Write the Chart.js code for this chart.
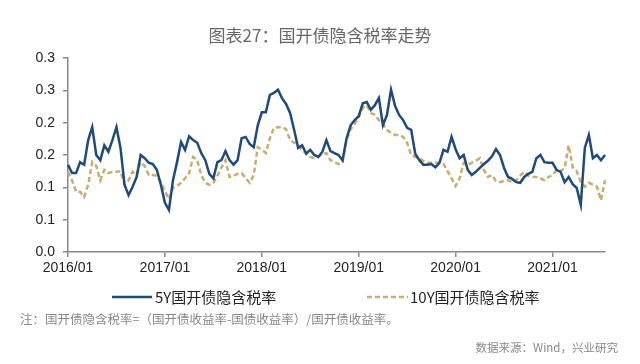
<!DOCTYPE html>
<html>
<head>
<meta charset="utf-8">
<script src="https://cdn.jsdelivr.net/npm/chart.js@4.4.1/dist/chart.umd.min.js"></script>
<style>
  body { margin: 0; background: #fff; font-family: "Noto Sans CJK SC", sans-serif; }
  #wrap { position: relative; width: 640px; height: 364px; }
  #chart { position: absolute; left: 0; top: 0; }
  .txt { position: absolute; white-space: nowrap; }
  #title { left: 0; width: 640px; top: 22px; text-align: center; font-size: 17px; color: #666; }
  .leg { top: 286px; font-size: 15px; color: #222; }
  .legline { position: absolute; top: 295px; }
  #note { left: 20px; top: 309px; font-size: 12.5px; color: #888; }
  #src { right: 22px; top: 339px; font-size: 11.5px; color: #888; }
</style>
</head>
<body>
<div id="wrap">
  <canvas id="chart" width="640" height="364"></canvas>
  <div class="txt" id="title">图表27：国开债隐含税率走势</div>
  <svg class="legline" style="left:112px" width="40" height="4"><line x1="0" y1="2" x2="40" y2="2" stroke="#1F4A7A" stroke-width="2.5"/></svg>
  <div class="txt leg" style="left:155px">5Y国开债隐含税率</div>
  <svg class="legline" style="left:367px" width="41" height="4"><line x1="0" y1="2" x2="41" y2="2" stroke="#C9AC73" stroke-width="2.5" stroke-dasharray="5,3"/></svg>
  <div class="txt leg" style="left:410px">10Y国开债隐含税率</div>
  <div class="txt" id="note">注：国开债隐含税率=（国开债收益率-国债收益率）/国开债收益率。</div>
  <div class="txt" id="src">数据来源：Wind，兴业研究</div>
</div>
<script>
// half-month steps starting 2016/01
const startYear = 2016;
const xTickLabels = ['2016/01', '2017/01', '2018/01', '2019/01', '2020/01', '2021/01'];
const yTickLabels = ['0.0', '0.1', '0.1', '0.2', '0.2', '0.3', '0.3'];

const rate5Y = [
  0.135, 0.122, 0.122, 0.139, 0.135, 0.173, 0.193, 0.150, 0.142, 0.165,
  0.155, 0.173, 0.193, 0.161, 0.104, 0.088, 0.101, 0.116, 0.150, 0.145,
  0.138, 0.136, 0.127, 0.104, 0.076, 0.065, 0.111, 0.139, 0.170, 0.158,
  0.179, 0.173, 0.169, 0.153, 0.142, 0.121, 0.114, 0.139, 0.142, 0.156,
  0.142, 0.135, 0.142, 0.176, 0.178, 0.167, 0.162, 0.196, 0.216, 0.216,
  0.243, 0.246, 0.251, 0.238, 0.229, 0.215, 0.189, 0.161, 0.165, 0.152,
  0.158, 0.150, 0.147, 0.155, 0.173, 0.156, 0.153, 0.150, 0.142, 0.176,
  0.196, 0.204, 0.210, 0.230, 0.232, 0.220, 0.227, 0.238, 0.196, 0.212,
  0.251, 0.226, 0.212, 0.204, 0.192, 0.189, 0.152, 0.142, 0.135, 0.135,
  0.136, 0.131, 0.138, 0.158, 0.155, 0.178, 0.159, 0.145, 0.150, 0.127,
  0.119, 0.124, 0.130, 0.136, 0.141, 0.148, 0.159, 0.150, 0.130, 0.116,
  0.113, 0.108, 0.107, 0.116, 0.121, 0.124, 0.145, 0.150, 0.139, 0.138,
  0.138, 0.127, 0.124, 0.108, 0.116, 0.105, 0.099, 0.073, 0.161, 0.181,
  0.145, 0.150, 0.142, 0.150
];

const rate10Y = [
  0.124, 0.111, 0.093, 0.093, 0.085, 0.104, 0.139, 0.133, 0.111, 0.127,
  0.122, 0.124, 0.124, 0.125, 0.104, 0.111, 0.124, 0.119, 0.139, 0.133,
  0.119, 0.119, 0.118, 0.108, 0.094, 0.082, 0.099, 0.102, 0.107, 0.114,
  0.122, 0.147, 0.142, 0.119, 0.107, 0.104, 0.107, 0.118, 0.131, 0.142,
  0.116, 0.118, 0.121, 0.122, 0.114, 0.107, 0.119, 0.162, 0.158, 0.153,
  0.176, 0.192, 0.193, 0.193, 0.190, 0.173, 0.169, 0.164, 0.158, 0.152,
  0.147, 0.145, 0.147, 0.152, 0.153, 0.142, 0.139, 0.136, 0.139, 0.173,
  0.190, 0.198, 0.209, 0.223, 0.227, 0.215, 0.212, 0.204, 0.198, 0.189,
  0.184, 0.181, 0.181, 0.178, 0.169, 0.150, 0.147, 0.145, 0.141, 0.138,
  0.138, 0.138, 0.138, 0.136, 0.125, 0.114, 0.102, 0.114, 0.138, 0.135,
  0.138, 0.141, 0.145, 0.127, 0.116, 0.119, 0.110, 0.108, 0.110, 0.111,
  0.108, 0.111, 0.118, 0.124, 0.118, 0.116, 0.116, 0.114, 0.111, 0.116,
  0.119, 0.127, 0.125, 0.130, 0.165, 0.131, 0.125, 0.108, 0.101, 0.107,
  0.104, 0.101, 0.080, 0.111
];

// category labels, one per half month
const labels = rate5Y.map((_, i) => {
  const m = Math.floor(i / 2);
  const y = startYear + Math.floor(m / 12);
  const mm = String(m % 12 + 1).padStart(2, '0');
  return i % 2 === 0 ? y + '/' + mm : y + '/' + mm + '-15';
});

const axisColor = '#8a8a8a';
const tickFont = { family: 'Liberation Sans, Arial, sans-serif', size: 14 };

new Chart(
  document.getElementById('chart'),
  {
    type: 'line',
    data: {
      labels: labels,
      datasets: [{
        label: '5Y国开债隐含税率',
        data: rate5Y,
        borderColor: '#1F4A7A',
        borderWidth: 2.5,
        pointRadius: 0,
        tension: 0,
        fill: false
      },
      {
        label: '10Y国开债隐含税率',
        data: rate10Y,
        borderColor: '#C9AC73',
        borderWidth: 2.5,
        borderDash: [5, 3],
        pointRadius: 0,
        tension: 0,
        fill: false
      }]
    },
    options: {
      responsive: false,
      animation: false,
      layout: {
        padding: { top: 58, right: 35, bottom: 82, left: 0 }
      },
      plugins: {
        legend: { display: false },
        tooltip: { enabled: false }
      },
      scales: {
        x: {
          afterFit: scale => { scale.height = 30; },
          border: { color: axisColor, width: 1.5 },
          grid: {
            drawOnChartArea: false,
            tickLength: 5,
            color: axisColor,
            lineWidth: 1.5
          },
          ticks: {
            autoSkip: false,
            maxRotation: 0,
            padding: 3,
            color: '#222',
            font: tickFont,
            callback: function (value, index) {
              const lab = labels[index];
              return xTickLabels.includes(lab) ? lab : null;
            }
          }
        },
        y: {
          min: 0,
          max: 0.3,
          afterFit: scale => { scale.width = 68; },
          border: { color: axisColor, width: 1.5 },
          grid: {
            drawOnChartArea: false,
            tickLength: 5,
            color: axisColor,
            lineWidth: 1.5
          },
          ticks: {
            stepSize: 0.05,
            padding: 8,
            color: '#222',
            font: tickFont,
            callback: value => yTickLabels[Math.round(value / 0.05)]
          }
        }
      }
    }
  }
)
</script>
</body>
</html>
